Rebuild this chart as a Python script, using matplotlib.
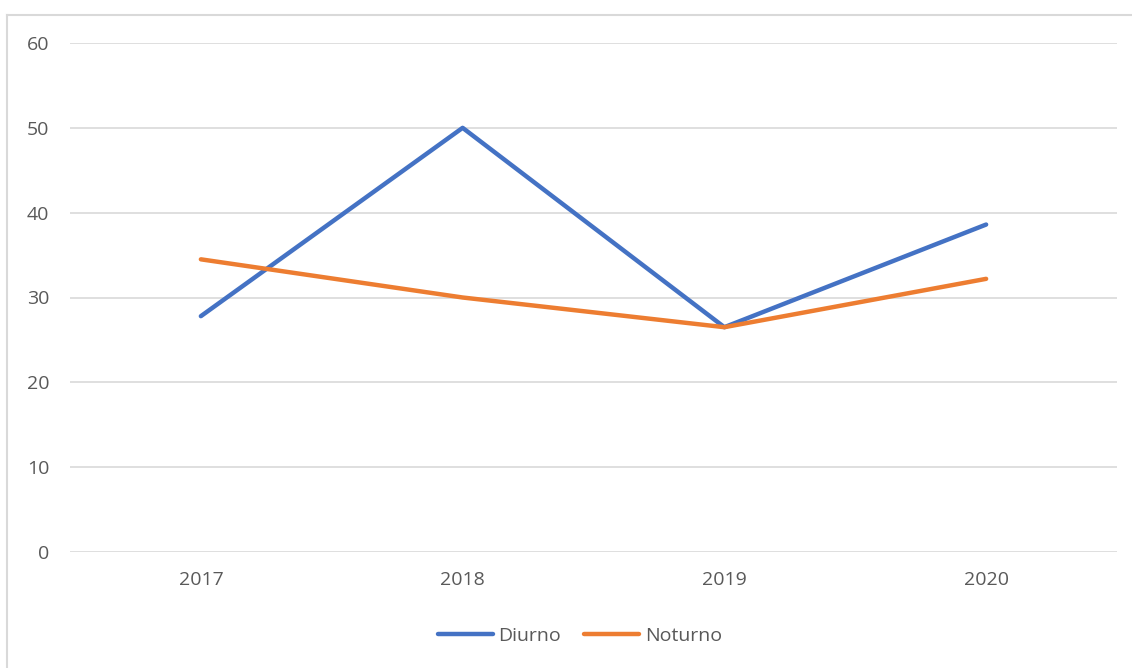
import matplotlib.pyplot as plt
from matplotlib.lines import Line2D

years = ['2017', '2018', '2019', '2020']
diurno = [27.8, 50.0, 26.5, 38.6]
noturno = [34.5, 30.0, 26.5, 32.2]

plt.rcParams['font.family'] = ['Open Sans', 'DejaVu Sans']

fig = plt.figure(figsize=(11.32, 6.68), dpi=100)
ax = fig.add_axes([70 / 1132, 116 / 668, 1047 / 1132, 509 / 668])

x = range(len(years))
ax.plot(x, diurno, color='#4472C4', linewidth=3.2, solid_capstyle='round', label='Diurno', zorder=3)
ax.plot(x, noturno, color='#ED7D31', linewidth=3.2, solid_capstyle='round', label='Noturno', zorder=3)

ax.set_xlim(-0.5, len(years) - 0.5)
ax.set_ylim(0, 60)
ax.set_yticks(range(0, 61, 10))
ax.set_xticks(list(x))
ax.set_xticklabels(years)
ax.grid(axis='y', color='#D9D9D9', linewidth=1.2)
ax.set_axisbelow(True)
for s in ax.spines.values():
    s.set_visible(False)
ax.tick_params(length=0, labelsize=14, labelcolor='#595959')
ax.tick_params(axis='y', pad=15)
ax.tick_params(axis='x', pad=14)

ax.legend(loc='center', bbox_to_anchor=(580 / 1132, 32 / 668), bbox_transform=fig.transFigure,
          ncol=2, frameon=False, fontsize=14, labelcolor='#595959',
          handlelength=2.8, handletextpad=0.3, columnspacing=1.2)

# light frame of the screenshot (top and left)
fig.add_artist(Line2D([7 / 1132, 1], [1 - 15 / 668, 1 - 15 / 668], color='#D9D9D9', linewidth=1.5))
fig.add_artist(Line2D([7 / 1132, 7 / 1132], [0, 1 - 15 / 668], color='#D9D9D9', linewidth=1.5))

fig.savefig('out.png', dpi=100)
